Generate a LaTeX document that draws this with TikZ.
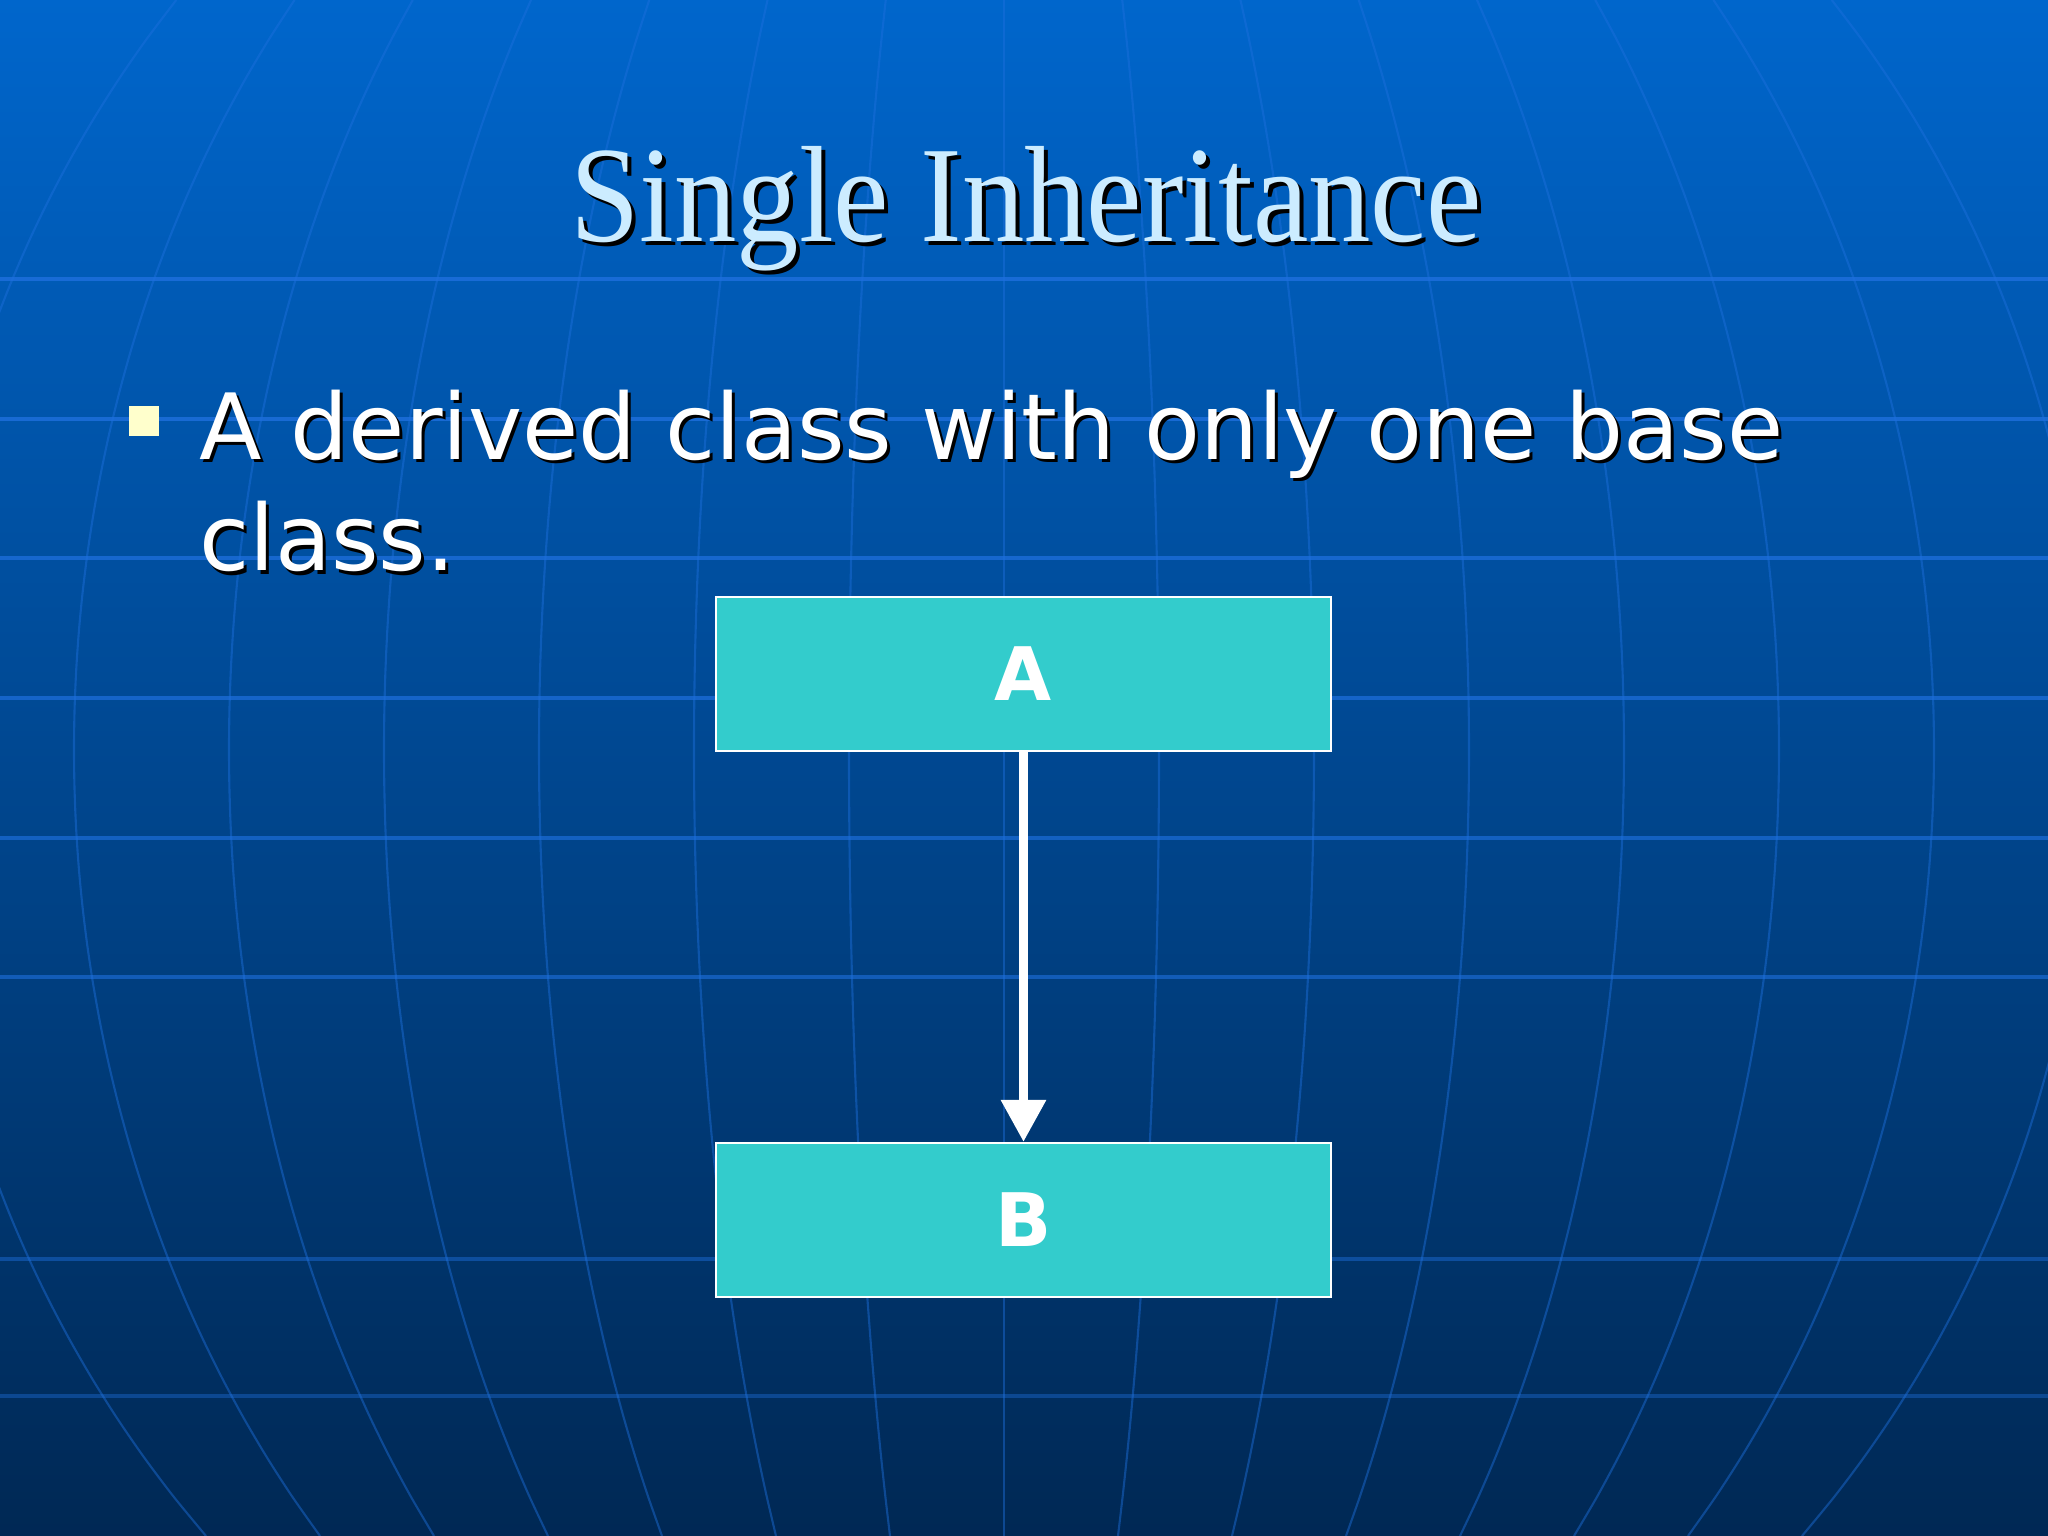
\documentclass[tikz,border=0pt]{standalone}
\usepackage{fontspec}
\setmainfont{Liberation Serif}
\newfontfamily\bodyfont{DejaVu Sans}
\usepackage{tikz}
\usetikzlibrary{arrows.meta}

\definecolor{bgtop}{RGB}{0,102,204}
\definecolor{bgmid}{RGB}{0,70,145}
\definecolor{bgbot}{RGB}{0,40,84}
\definecolor{gridblue}{RGB}{30,112,222}
\definecolor{boxteal}{RGB}{51,204,204}
\definecolor{titleblue}{RGB}{204,236,255}
\definecolor{bulletyellow}{RGB}{255,255,204}

\begin{document}
\begin{tikzpicture}[
    classbox/.style={draw=white, line width=0.6pt, fill=boxteal, minimum width=6.15cm,
        minimum height=1.54cm, inner sep=0pt, text=white,
        font=\bodyfont\bfseries\fontsize{21}{25}\selectfont},
    titletext/.style={anchor=base, font=\fontsize{39}{44}\selectfont},
    bodytext/.style={anchor=base west, font=\bodyfont\fontsize{26}{31}\selectfont},
    gridline/.style={draw=gridblue}
    ]
        % slide background with the globe grid
        \shade[top color=bgtop, middle color=bgmid, bottom color=bgbot] (0,0) rectangle (20.48,-15.36);
        \useasboundingbox (0,0) rectangle (20.48,-15.36);
        \begin{scope}
            \clip (0,0) rectangle (20.48,-15.36);
            \foreach \y/\o in {2.79/.8, 4.19/.8, 5.58/.75, 6.98/.7, 8.38/.65, 9.77/.6, 12.59/.45, 13.96/.4}
                \draw[gridline, line width=1pt, opacity=\o] (0,-\y) -- (20.48,-\y);
            \foreach \m in {-7,...,7}
                \draw[gridline, line width=0.6pt, opacity=.45, variable=\t, domain=0:15.36, samples=40, smooth]
                    plot ({10.04+1.55*\m*sqrt(1-((\t-7.5)/11.6)^2)}, {-\t});
        \end{scope}

        \node[titletext, text=black] (titleshadow) at (10.30,-2.46) {\scalebox{0.91}[1]{Single Inheritance}};
        \node[titletext, text=titleblue] (title) at (10.26,-2.42) {\scalebox{0.91}[1]{Single Inheritance}};

        \node[fill=bulletyellow, minimum size=0.30cm, inner sep=0pt] (bullet) at (1.435,-4.21) {};
        \node[bodytext, text=black] (line1shadow) at (1.90,-4.63) {A derived class with only one base};
        \node[bodytext, text=white] (line1) at (1.87,-4.60) {A derived class with only one base};
        \node[bodytext, text=black] (line2shadow) at (1.90,-5.74) {class.};
        \node[bodytext, text=white] (line2) at (1.87,-5.71) {class.};

        \node[classbox] (classA) at (10.235,-6.74) {A};
        \node[classbox] (classB) at (10.235,-12.20) {B};

        \draw[-{Triangle[width=4.3mm,length=4.2mm]}, white, line width=2.6pt] (classA) -- (classB);
\end{tikzpicture}
\end{document}
